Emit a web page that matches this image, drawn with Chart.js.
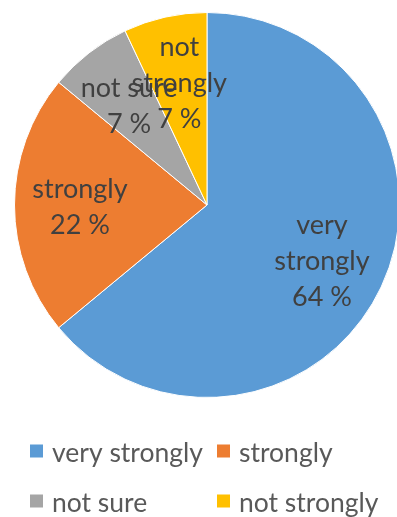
<!DOCTYPE html>
<html>
<head>
<meta charset="utf-8">
<script src="https://cdn.jsdelivr.net/npm/chart.js@4/dist/chart.umd.min.js"></script>
<style>
html,body{margin:0;padding:0;background:#fff;overflow:hidden;width:397px;height:517px;}
#wrap{position:absolute;left:0;top:0;width:414px;height:517px;}
</style>
</head>
<body>
<div id="wrap"><canvas id="c" width="414" height="517"></canvas></div>
<script>
const categories = ["very strongly", "strongly", "not sure", "not strongly"];
const values = [64, 22, 7, 7];
const labelLines = [["very", "strongly"], ["strongly"], ["not sure"], ["not", "strongly"]];
const colors = ["#5B9BD5", "#ED7D31", "#A5A5A5", "#FFC000"];

const FONT = "Lato, 'Open Sans', sans-serif";

const sliceLabels = {
  id: "sliceLabels",
  afterDatasetsDraw(chart) {
    const ctx = chart.ctx;
    const meta = chart.getDatasetMeta(0);
    ctx.save();
    ctx.font = "27px " + FONT;
    ctx.fillStyle = "#404040";
    ctx.textAlign = "center";
    ctx.textBaseline = "middle";
    const lh = 36;
    meta.data.forEach((arc, i) => {
      const p = arc.getProps(["x", "y", "startAngle", "endAngle", "outerRadius"], true);
      const mid = (p.startAngle + p.endAngle) / 2;
      const r = p.outerRadius * 0.66;
      const cx = p.x + Math.cos(mid) * r;
      const cy = p.y + Math.sin(mid) * r;
      const lines = labelLines[i].concat([values[i] + " %"]);
      const top = cy - (lines.length - 1) * lh / 2 + 2;
      lines.forEach((t, k) => ctx.fillText(t, cx, top + k * lh));
    });
    ctx.restore();
  }
};

const gridLegend = {
  id: "gridLegend",
  afterDraw(chart) {
    const ctx = chart.ctx;
    const area = chart.chartArea;
    ctx.save();
    ctx.font = "26.5px " + FONT;
    ctx.textBaseline = "middle";
    ctx.textAlign = "left";
    const colX = [30, 217];
    const rowY = [area.bottom + 53, area.bottom + 103];
    const box = 13;
    categories.forEach((name, i) => {
      const x = colX[i % 2];
      const y = rowY[Math.floor(i / 2)];
      ctx.fillStyle = colors[i];
      ctx.fillRect(x, y - box / 2, box, box);
      ctx.fillStyle = "#595959";
      ctx.fillText(name, x + box + 9, y + 2);
    });
    ctx.restore();
  }
};

new Chart(document.getElementById("c"), {
  type: "pie",
  data: {
    labels: categories,
    datasets: [{
      data: values,
      backgroundColor: colors,
      borderColor: "#ffffff",
      borderWidth: 1
    }]
  },
  options: {
    responsive: false,
    animation: false,
    layout: { padding: { top: 12, bottom: 119, left: 0, right: 0 } },
    plugins: {
      legend: { display: false },
      tooltip: { enabled: false }
    }
  },
  plugins: [sliceLabels, gridLegend]
});
</script>
</body>
</html>
